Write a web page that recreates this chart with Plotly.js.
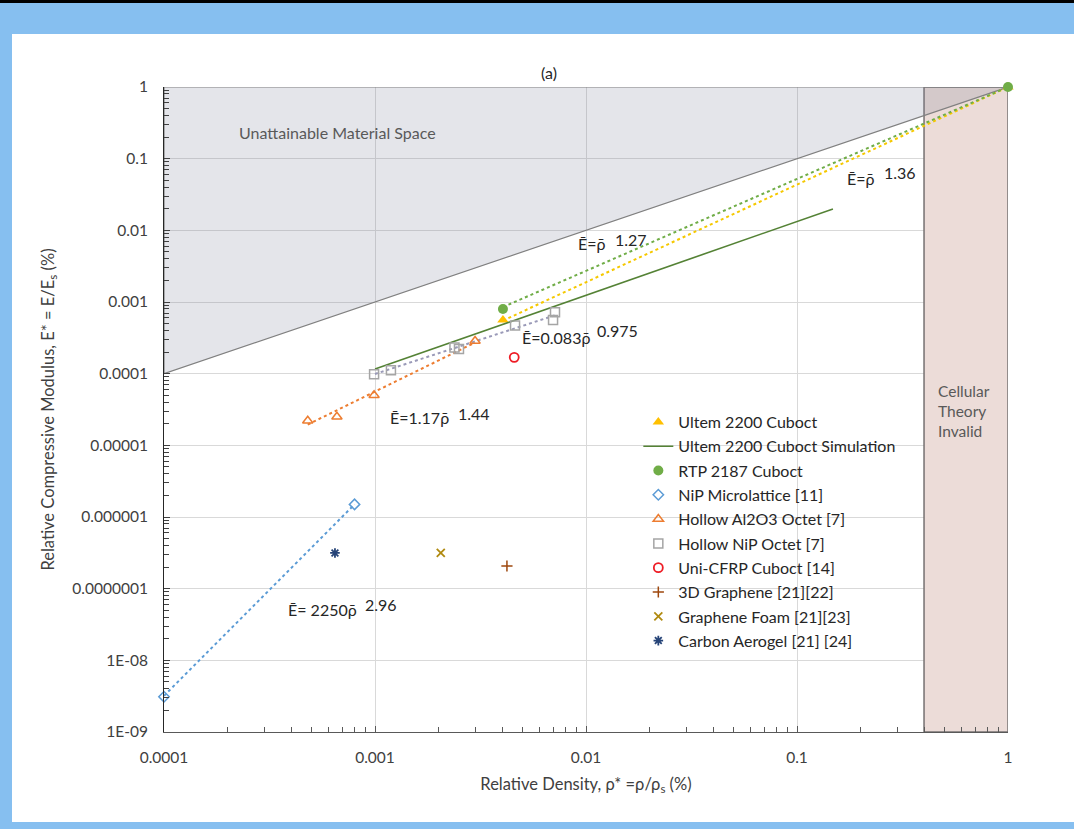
<!DOCTYPE html>
<html>
<head>
<meta charset="utf-8">
<script src="https://cdn.plot.ly/plotly-3.0.1.min.js"></script>
<style>
  html, body { margin:0; padding:0; width:1074px; height:829px; overflow:hidden; background:#86bff0; }
  #topband { position:absolute; left:0; top:0; width:1074px; height:3px; background:#000; }
  #panel { position:absolute; left:12px; top:34px; width:1062px; height:788px; background:#fff; }
  #chart { position:absolute; left:0; top:0; width:1074px; height:829px; }
</style>
</head>
<body>
<div id="topband"></div>
<div id="panel"></div>
<div id="chart"></div>
<script>
// ---- data ----
const ultemX = [0.00404, 1];
const ultemY = [0.00056, 1];
const simX = [0.001, 0.148];
const simY = [0.000116, 0.0199];
const rtpX = [0.00404, 1];
const rtpY = [0.00080, 1];
const nipMicroX = [0.0001, 0.0008];
const nipMicroY = [3.1e-9, 1.5e-6];
const al2o3X = [0.00048, 0.00066, 0.00099, 0.00298];
const al2o3Y = [2.2e-5, 2.5e-5, 5.0e-5, 2.86e-4];
const nipOctX = [0.00099, 0.00119, 0.00238, 0.0025, 0.00461, 0.00698, 0.00713];
const nipOctY = [0.000098, 0.000112, 0.000231, 0.000221, 0.00047, 0.000561, 0.000718];
const cfrpX = [0.00457];
const cfrpY = [0.000169];
const graphene3dX = [0.00422];
const graphene3dY = [2.07e-7];
const grapheneFoamX = [0.00205];
const grapheneFoamY = [3.15e-7];
const aerogelX = [0.000646];
const aerogelY = [3.15e-7];

// fitted trendlines (end points)
const ultemFitX = [0.00404, 1];
const ultemFitY = [0.00055, 1];
const rtpFitX = [0.00404, 1];
const rtpFitY = [0.00085, 1];
const nipMicroFitX = [0.0001, 0.0008];
const nipMicroFitY = [3.2e-9, 1.5e-6];
const al2o3FitX = [0.00048, 0.00298];
const al2o3FitY = [1.95e-5, 2.72e-4];
const nipOctFitX = [0.001, 0.0071];
const nipOctFitY = [9.9e-5, 6.5e-4];

// regions
const boundX = [0.0001, 1, 1, 0.0001, 0.0001];
const boundY = [0.0001, 1, 1, 1, 0.0001];
const invalidX = [0.4, 1, 1, 0.4, 0.4];
const invalidY = [1e-9, 1e-9, 1, 1, 1e-9];

const xTickVals = [0.0001, 0.001, 0.01, 0.1, 1];
const xTickText = ['0.0001', '0.001', '0.01', '0.1', '1'];
const yTickVals = [1e-9, 1e-8, 1e-7, 1e-6, 1e-5, 1e-4, 1e-3, 1e-2, 1e-1, 1];
const yTickText = ['1E-09', '1E-08', '0.0000001', '0.000001', '0.00001', '0.0001', '0.001', '0.01', '0.1', '1'];
const minorDigits = [2, 3, 4, 5, 6, 7, 8, 9];

function minorVals(decades) {
  const out = [];
  decades.forEach(d => minorDigits.forEach(m => out.push(d * m)));
  return out;
}

const FONT = "Lato, 'Noto Sans', sans-serif";
const TXT = '#404040';

const traces = [
  // background regions
  {x: invalidX, y: invalidY, mode: 'lines', fill: 'toself', fillcolor: '#ecdcd8',
   line: {color: '#767171', width: 1.5}, showlegend: false, hoverinfo: 'skip'},
  {x: boundX, y: boundY, mode: 'lines', fill: 'toself', fillcolor: 'rgba(120,125,150,0.2)',
   line: {color: '#808080', width: 1.2}, showlegend: false, hoverinfo: 'skip'},
  // trendlines
  {x: ultemFitX, y: ultemFitY, mode: 'lines', line: {color: '#f5c800', width: 2, dash: 'dot'}, showlegend: false},
  {x: rtpFitX, y: rtpFitY, mode: 'lines', line: {color: '#70ad47', width: 2, dash: 'dot'}, showlegend: false},
  {x: nipMicroFitX, y: nipMicroFitY, mode: 'lines', line: {color: '#5b9bd5', width: 2, dash: 'dot'}, showlegend: false},
  {x: al2o3FitX, y: al2o3FitY, mode: 'lines', line: {color: '#ed7d31', width: 2, dash: 'dot'}, showlegend: false},
  {x: nipOctFitX, y: nipOctFitY, mode: 'lines', line: {color: '#9a9ab8', width: 2, dash: 'dot'}, showlegend: false},
  // series
  {name: 'Ultem 2200 Cuboct', x: ultemX, y: ultemY, mode: 'markers', legendgroup: 'g1', cliponaxis: false,
   marker: {symbol: 'triangle-up', size: 10, color: '#ffc000'}},
  {name: 'Ultem 2200 Cuboct Simulation', x: simX, y: simY, mode: 'lines', legendgroup: 'g2',
   line: {color: '#548235', width: 1.6}},
  {name: 'RTP 2187 Cuboct', x: rtpX, y: rtpY, mode: 'markers', legendgroup: 'g3', cliponaxis: false,
   marker: {symbol: 'circle', size: 10, color: '#70ad47'}},
  {name: 'NiP Microlattice [11]', x: nipMicroX, y: nipMicroY, mode: 'markers', legendgroup: 'g4', cliponaxis: false,
   marker: {symbol: 'diamond-open', size: 8, color: '#5b9bd5', line: {width: 1.5}}},
  {name: 'Hollow Al2O3 Octet [7]', x: al2o3X, y: al2o3Y, mode: 'markers', legendgroup: 'g5',
   marker: {symbol: 'triangle-up-open', size: 9, color: '#ed7d31', line: {width: 1.5}}},
  {name: 'Hollow NiP Octet [7]', x: nipOctX, y: nipOctY, mode: 'markers', legendgroup: 'g6',
   marker: {symbol: 'square-open', size: 9, color: '#a5a5a5', line: {width: 1.5}}},
  {name: 'Uni-CFRP Cuboct [14]', x: cfrpX, y: cfrpY, mode: 'markers', legendgroup: 'g7',
   marker: {symbol: 'circle-open', size: 9, color: '#ee1c25', line: {width: 1.8}}},
  {name: '3D Graphene [21][22]', x: graphene3dX, y: graphene3dY, mode: 'markers', legendgroup: 'g8',
   marker: {symbol: 'cross-thin-open', size: 8, color: '#9e480e', line: {width: 1.5}}},
  {name: 'Graphene Foam [21][23]', x: grapheneFoamX, y: grapheneFoamY, mode: 'markers', legendgroup: 'g9',
   marker: {symbol: 'x-thin-open', size: 8, color: '#b08a10', line: {width: 1.8}}},
  {name: 'Carbon Aerogel [21] [24]', x: aerogelX, y: aerogelY, mode: 'markers', legendgroup: 'g10',
   marker: {symbol: 'asterisk-open', size: 8, color: '#264478', line: {width: 1.8}}}
];

const eqFont = {family: FONT, size: 16, color: '#262626'};
function ann(text, lx, ly, extra) {
  return Object.assign({text: text, x: lx, y: ly, xref: 'x', yref: 'y', showarrow: false, font: eqFont}, extra || {});
}
const rb = '\u03c1\u0304';

const layout = {
  width: 1074, height: 829,
  paper_bgcolor: 'rgba(0,0,0,0)', plot_bgcolor: 'rgba(0,0,0,0)',
  margin: {l: 164, r: 66, t: 87, b: 97},
  font: {family: FONT, color: TXT, size: 15},
  showlegend: true,
  legend: {x: 0.562, y: 0.507, xanchor: 'left', yanchor: 'top', bgcolor: 'rgba(0,0,0,0)',
           font: {family: FONT, size: 16, color: '#262626'}, tracegroupgap: 0.5, itemwidth: 30},
  xaxis: {type: 'log', range: [-4, 0], tickmode: 'array', tickvals: xTickVals, ticktext: xTickText,
          showgrid: true, gridcolor: '#d9d9d9', zeroline: false,
          showline: true, linecolor: '#595959', linewidth: 1,
          ticks: 'inside', ticklen: 6, tickcolor: '#595959', ticklabelstandoff: 11,
          tickfont: {family: FONT, size: 15.5, color: TXT},
          minor: {tickmode: 'array', tickvals: minorVals([0.0001, 0.001, 0.01, 0.1]), ticks: 'inside', ticklen: 5, tickcolor: '#595959', showgrid: false},
          title: {text: 'Relative Density, \u03c1* =\u03c1/\u03c1<sub>s</sub> (%)', standoff: 13, font: {family: FONT, size: 16.5, color: TXT}}},
  yaxis: {type: 'log', range: [-9, 0], tickmode: 'array', tickvals: yTickVals, ticktext: yTickText,
          showgrid: true, gridcolor: '#d9d9d9', zeroline: false,
          showline: true, linecolor: '#262626', linewidth: 1,
          ticks: 'inside', ticklen: 6, tickcolor: '#404040', ticklabelstandoff: 12,
          tickfont: {family: FONT, size: 15.5, color: TXT},
          minor: {tickmode: 'array', tickvals: minorVals([1e-9, 1e-8, 1e-7, 1e-6, 1e-5, 1e-4, 1e-3, 1e-2, 1e-1]), ticks: 'inside', ticklen: 5, tickcolor: '#404040', showgrid: false},
          title: {text: 'Relative Compressive Modulus, E* = E/E<sub>s</sub> (%)', standoff: 13, font: {family: FONT, size: 16.5, color: TXT}}},
  annotations: [
    {text: '(a)', xref: 'paper', yref: 'paper', x: 0.456, y: 1.023, yanchor: 'middle', showarrow: false, font: {family: FONT, size: 16, color: '#262626'}},
    ann('Unattainable Material Space', -3.18, -0.628, {font: {family: FONT, size: 16, color: '#595959'}}),
    ann('\u0112=' + rb, -0.697, -1.27),
    ann('1.36', -0.512, -1.186),
    ann('\u0112=' + rb, -1.972, -2.19),
    ann('1.27', -1.787, -2.121),
    ann('\u0112=0.083' + rb, -2.14, -3.502),
    ann('0.975', -1.85, -3.391),
    ann('\u0112=1.17' + rb, -2.789, -4.618),
    ann('1.44', -2.531, -4.549),
    ann('\u0112= 2250' + rb, -3.251, -7.297),
    ann('2.96', -2.972, -7.214),
    ann('Cellular<br>Theory<br>Invalid', -0.341, -4.521, {xanchor: 'left', align: 'left', font: {family: FONT, size: 15.5, color: '#595959'}})
  ]
};

Plotly.newPlot('chart', traces, layout, {displayModeBar: false, staticPlot: true});
</script>
</body>
</html>
